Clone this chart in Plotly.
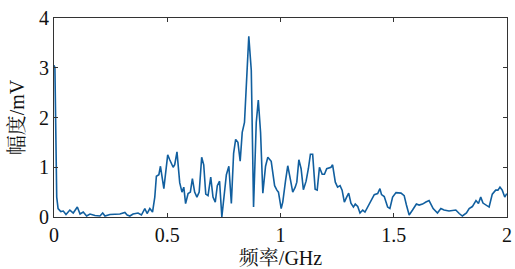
import plotly.graph_objects as go

freq_ghz = [0.0, 0.004, 0.012, 0.018, 0.030, 0.041, 0.053, 0.070, 0.085, 0.103, 0.115, 0.129, 0.144,
            0.159, 0.181, 0.203, 0.215, 0.225, 0.247, 0.269, 0.291, 0.313, 0.323, 0.335, 0.349,
            0.371, 0.386, 0.401, 0.411, 0.423, 0.435, 0.445, 0.452, 0.463, 0.470, 0.485, 0.502,
            0.511, 0.526, 0.533, 0.543, 0.555, 0.565, 0.573, 0.581, 0.592, 0.602, 0.611, 0.621,
            0.631, 0.641, 0.652, 0.661, 0.670, 0.680, 0.692, 0.702, 0.712, 0.721, 0.731, 0.741,
            0.761, 0.772, 0.783, 0.793, 0.802, 0.812, 0.822, 0.831, 0.841, 0.860, 0.871, 0.881,
            0.893, 0.902, 0.912, 0.922, 0.934, 0.944, 0.959, 0.974, 0.984, 0.991, 1.003, 1.010,
            1.022, 1.032, 1.043, 1.054, 1.065, 1.072, 1.081, 1.091, 1.101, 1.113, 1.123, 1.132,
            1.142, 1.153, 1.162, 1.172, 1.184, 1.194, 1.204, 1.223, 1.230, 1.242, 1.252, 1.263,
            1.272, 1.282, 1.292, 1.301, 1.311, 1.322, 1.330, 1.341, 1.351, 1.363, 1.373, 1.385,
            1.400, 1.414, 1.429, 1.439, 1.446, 1.458, 1.473, 1.483, 1.495, 1.510, 1.532, 1.546,
            1.556, 1.568, 1.583, 1.600, 1.612, 1.627, 1.642, 1.656, 1.674, 1.693, 1.708, 1.722,
            1.744, 1.774, 1.789, 1.803, 1.821, 1.833, 1.847, 1.863, 1.874, 1.884, 1.894, 1.906,
            1.921, 1.935, 1.950, 1.960, 1.969, 1.979, 1.990, 1.999]
amplitude_mv = [3.05, 3.0, 0.4, 0.17, 0.11, 0.12, 0.05, 0.14, 0.08, 0.2, 0.06, 0.1, 0.02,
                0.06, 0.03, 0.02, 0.08, 0.02, 0.05, 0.05, 0.06, 0.09, 0.04, 0.02, 0.06,
                0.08, 0.04, 0.17, 0.07, 0.17, 0.1, 0.4, 0.82, 0.85, 1.02, 0.57, 1.25,
                1.15, 1.0, 1.05, 1.31, 0.69, 0.5, 0.6, 0.27, 0.47, 0.5, 0.77, 0.5,
                0.40, 0.5, 1.2, 1.05, 0.46, 0.43, 0.8, 0.4, 0.3, 0.63, 0.72, 0.0,
                0.85, 1.02, 0.27, 1.28, 1.56, 1.5, 1.12, 1.7, 1.9, 3.63, 2.95, 0.2,
                1.9, 2.35, 1.7, 0.48, 1.02, 1.2, 1.12, 0.63, 0.54, 0.5, 0.17, 0.3,
                0.72, 1.03, 0.77, 0.5, 0.6, 0.7, 1.15, 0.97, 0.55, 0.72, 0.97, 1.26,
                1.26, 0.56, 0.54, 1.0, 0.86, 0.86, 0.97, 1.0, 1.05, 0.7, 0.6, 0.63,
                0.54, 0.3, 0.4, 0.48, 0.28, 0.2, 0.26, 0.21, 0.08, 0.14, 0.1, 0.2,
                0.33, 0.45, 0.47, 0.57, 0.45, 0.41, 0.2, 0.17, 0.4, 0.49, 0.48, 0.43,
                0.24, 0.04, 0.14, 0.26, 0.24, 0.26, 0.3, 0.33, 0.17, 0.08, 0.17, 0.14,
                0.12, 0.14, 0.07, 0.02, 0.08, 0.17, 0.21, 0.33, 0.27, 0.4, 0.28, 0.24,
                0.2, 0.46, 0.54, 0.54, 0.6, 0.54, 0.4, 0.47]

x_ticks = [0, 0.5, 1, 1.5, 2]
x_tick_labels = ["0", "0.5", "1", "1.5", "2"]
y_ticks = [0, 1, 2, 3, 4]
y_tick_labels = ["0", "1", "2", "3", "4"]

font_family = "Times New Roman, Liberation Serif, DejaVu Serif, serif"
title_family = "Times New Roman, Liberation Serif, Noto Serif CJK SC, Noto Sans CJK SC, serif"

fig = go.Figure()
fig.add_trace(go.Scatter(x=freq_ghz, y=amplitude_mv, mode="lines",
                         line=dict(color="#115f9f", width=1.6), showlegend=False))

axis_common = dict(showgrid=False, zeroline=False, showline=True, linecolor="#333333",
                   linewidth=1, mirror="ticks", ticks="inside", ticklen=4, tickcolor="#333333",
                   tickfont=dict(family=font_family, size=20, color="#111111"))

fig.update_xaxes(range=[0, 2], tickvals=x_ticks, ticktext=x_tick_labels, ticklabelstandoff=0,
                 automargin=False,
                 title=dict(text="频率/GHz", font=dict(family=title_family, size=20, color="#111111")),
                 **axis_common)
fig.update_yaxes(range=[0, 4], tickvals=y_ticks, ticktext=y_tick_labels, ticklabelstandoff=0,
                 automargin=True,
                 title=dict(text="幅度/mV", standoff=9,
                            font=dict(family=title_family, size=20, color="#111111")),
                 **axis_common)

fig.update_layout(width=515, height=269, margin=dict(l=54, r=7, t=13, b=52),
                  plot_bgcolor="white", paper_bgcolor="white")

# remove the page's default 8px body margin so the figure sits at the window origin
fig.write_html("out.html", config={"displayModeBar": False},
               post_script="document.body.style.margin='0';document.body.style.overflow='hidden';")
